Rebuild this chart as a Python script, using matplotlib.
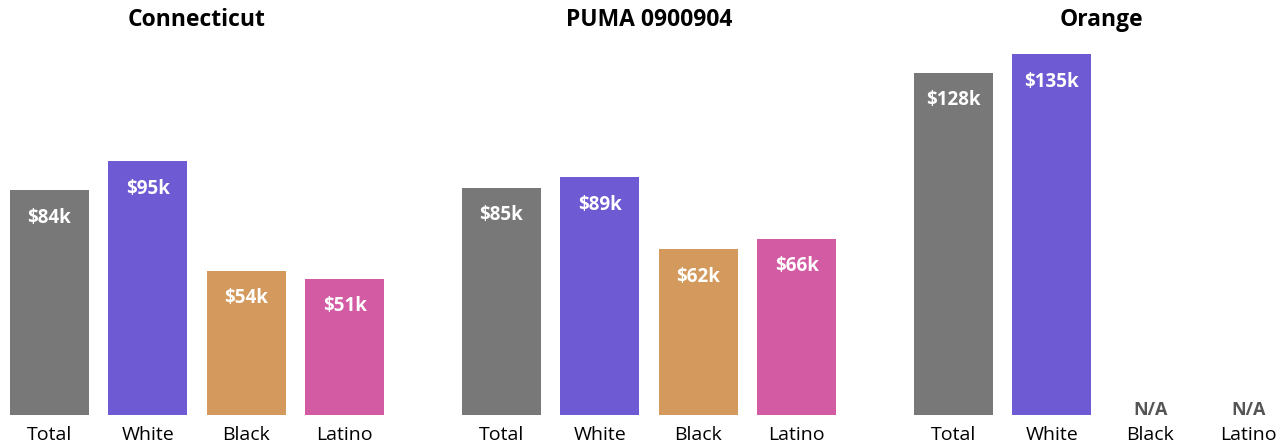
import matplotlib
matplotlib.use("Agg")
import matplotlib.pyplot as plt

plt.rcParams['font.family'] = ['Open Sans', 'DejaVu Sans']

regions = ["Connecticut", "PUMA 0900904", "Orange"]
categories = ["Total", "White", "Black", "Latino"]
values = [
    [84, 95, 54, 51],
    [85, 89, 62, 66],
    [128, 135, None, None],
]
colors = ["#787878", "#6e5ad2", "#d4995c", "#d35ba3"]

fig = plt.figure(figsize=(12.87, 4.48), dpi=100)
W, H = 1287, 448
lefts = [10, 462, 914]
pw = 374
bottom_px = 415
top_px = 40
ymax = (bottom_px - top_px) / 2.674

for i, (reg, vals) in enumerate(zip(regions, values)):
    ax = fig.add_axes([lefts[i] / W, (H - bottom_px) / H, pw / W, (bottom_px - top_px) / H])
    ax.set_xlim(-0.4, 3.4)
    ax.set_ylim(0, ymax)
    for j, (cat, v) in enumerate(zip(categories, vals)):
        if v is None:
            ax.text(j, 0, "N/A", ha='center', va='baseline', fontsize=13,
                    fontweight='bold', color='#555555')
            continue
        ax.bar(j, v, width=0.8, color=colors[j])
        ax.text(j, v - 10.3, f"${v}k", ha='center', va='center', fontsize=13.5,
                fontweight='bold', color='white')
    ax.set_xticks(range(len(categories)))
    ax.set_xticklabels(categories, fontsize=14)
    ax.tick_params(axis='x', length=0, pad=8)
    ax.set_yticks([])
    for s in ax.spines.values():
        s.set_visible(False)
    ax.set_title(reg, fontsize=16.5, fontweight='bold', pad=0,
                 y=1 + (top_px - 20) / (bottom_px - top_px), va='center')

fig.savefig("out.png", dpi=100)
